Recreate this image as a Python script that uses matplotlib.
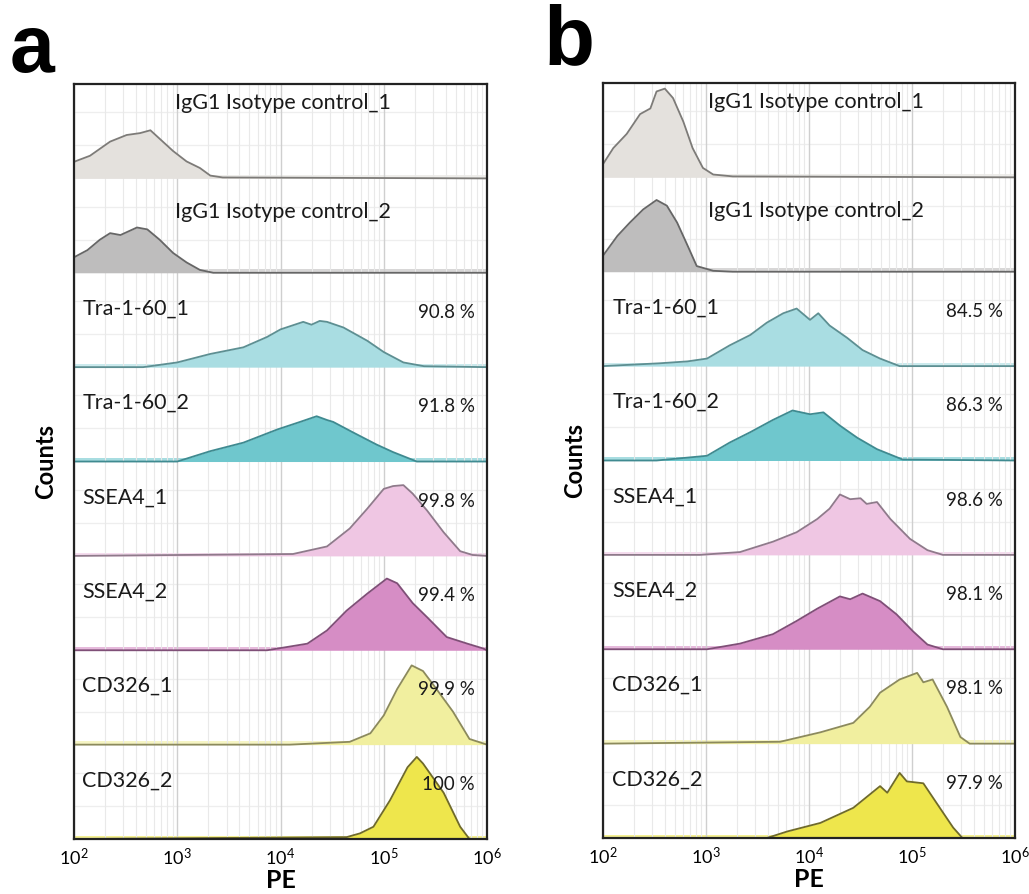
import numpy as np
import matplotlib
matplotlib.use('Agg')
import matplotlib.pyplot as plt

# row names (top to bottom) and % positive per panel
labels = ['IgG1 Isotype control_1', 'IgG1 Isotype control_2', 'Tra-1-60_1', 'Tra-1-60_2',
          'SSEA4_1', 'SSEA4_2', 'CD326_1', 'CD326_2']
pct_a = ['', '', '90.8 %', '91.8 %', '99.8 %', '99.4 %', '99.9 %', '100 %']
pct_b = ['', '', '84.5 %', '86.3 %', '98.6 %', '98.1 %', '98.1 %', '97.9 %']

fills = ['#e4e1dd', '#bebdbd', '#a9dde2', '#6fc7cd', '#efc6e3', '#d68dc5', '#f1ef9f', '#eee64c']
edges = ['#7d7b78', '#666666', '#5d8f92', '#3f8a90', '#8f7a8b', '#7f4f77', '#8c8a5c', '#6f6a2a']

# histograms: log10(PE) and height (fraction of a row)
a_igg1_x = [2.0, 2.01, 2.155, 2.35, 2.51, 2.64, 2.74, 2.83, 2.96, 3.09, 3.22, 3.32, 3.44, 6.0]
a_igg1_h = [0.17, 0.18, 0.24, 0.39, 0.46, 0.48, 0.51, 0.42, 0.29, 0.18, 0.11, 0.03, 0.01, 0.0]
a_igg2_x = [2.0, 2.01, 2.13, 2.25, 2.35, 2.45, 2.61, 2.71, 2.83, 2.96, 3.09, 3.22, 3.35, 6.0]
a_igg2_h = [0.16, 0.17, 0.24, 0.35, 0.42, 0.40, 0.48, 0.46, 0.35, 0.21, 0.11, 0.03, 0.0, 0.0]
a_tra1_x = [2.0, 2.67, 3.0, 3.32, 3.64, 3.87, 4.0, 4.22, 4.3, 4.38, 4.45, 4.61, 4.84, 5.0, 5.19, 5.39, 6.0]
a_tra1_h = [0.0, 0.0, 0.05, 0.14, 0.21, 0.32, 0.40, 0.48, 0.45, 0.49, 0.48, 0.42, 0.28, 0.16, 0.05, 0.01, 0.0]
a_tra2_x = [2.0, 3.0, 3.32, 3.64, 3.97, 4.19, 4.35, 4.45, 4.51, 4.70, 4.93, 5.09, 5.32, 6.0]
a_tra2_h = [0.0, 0.0, 0.11, 0.20, 0.34, 0.42, 0.48, 0.44, 0.42, 0.31, 0.18, 0.10, 0.0, 0.0]
a_ssea1_x = [2.0, 4.12, 4.45, 4.67, 4.84, 5.0, 5.09, 5.19, 5.28, 5.42, 5.58, 5.74, 5.86, 6.0]
a_ssea1_h = [0.0, 0.02, 0.10, 0.29, 0.50, 0.71, 0.74, 0.75, 0.66, 0.48, 0.25, 0.05, 0.01, 0.0]
a_ssea2_x = [2.0, 3.87, 4.26, 4.45, 4.64, 4.84, 5.03, 5.13, 5.28, 5.42, 5.61, 5.81, 5.96, 6.0]
a_ssea2_h = [0.0, 0.0, 0.07, 0.21, 0.42, 0.60, 0.76, 0.71, 0.50, 0.35, 0.14, 0.07, 0.02, 0.0]
a_cd1_x = [2.0, 4.09, 4.67, 4.87, 5.0, 5.13, 5.27, 5.38, 5.51, 5.67, 5.83, 6.0]
a_cd1_h = [0.0, 0.0, 0.03, 0.12, 0.31, 0.59, 0.84, 0.78, 0.59, 0.35, 0.06, 0.0]
a_cd2_x = [2.0, 4.64, 4.77, 4.90, 5.06, 5.23, 5.32, 5.38, 5.58, 5.74, 5.83, 6.0]
a_cd2_h = [0.0, 0.02, 0.06, 0.13, 0.41, 0.76, 0.87, 0.80, 0.49, 0.13, 0.0, 0.0]

b_igg1_x = [2.0, 2.1, 2.23, 2.36, 2.46, 2.52, 2.60, 2.68, 2.78, 2.87, 2.97, 3.07, 3.26, 6.0]
b_igg1_h = [0.14, 0.31, 0.46, 0.67, 0.73, 0.91, 0.94, 0.84, 0.59, 0.31, 0.10, 0.03, 0.01, 0.0]
b_igg2_x = [2.0, 2.14, 2.26, 2.39, 2.52, 2.62, 2.72, 2.82, 2.91, 3.07, 3.26, 6.0]
b_igg2_h = [0.17, 0.38, 0.52, 0.66, 0.76, 0.70, 0.52, 0.28, 0.06, 0.01, 0.0, 0.0]
b_tra1_x = [2.0, 2.55, 2.82, 3.01, 3.23, 3.43, 3.59, 3.75, 3.88, 4.01, 4.09, 4.2, 4.37, 4.52, 4.69, 4.88, 6.0]
b_tra1_h = [0.0, 0.03, 0.05, 0.08, 0.22, 0.33, 0.46, 0.56, 0.61, 0.49, 0.56, 0.43, 0.30, 0.17, 0.08, 0.0, 0.0]
b_tra2_x = [2.0, 2.52, 3.01, 3.23, 3.43, 3.65, 3.84, 4.01, 4.14, 4.30, 4.47, 4.66, 4.91, 6.0]
b_tra2_h = [0.0, 0.0, 0.05, 0.19, 0.30, 0.43, 0.53, 0.49, 0.51, 0.37, 0.24, 0.12, 0.01, 0.0]
b_ssea1_x = [2.0, 2.94, 3.33, 3.65, 3.88, 4.08, 4.2, 4.3, 4.4, 4.5, 4.56, 4.66, 4.79, 4.98, 5.15, 5.3, 6.0]
b_ssea1_h = [0.0, 0.0, 0.03, 0.14, 0.24, 0.38, 0.49, 0.64, 0.59, 0.60, 0.54, 0.56, 0.38, 0.17, 0.05, 0.0, 0.0]
b_ssea2_x = [2.0, 3.01, 3.33, 3.65, 3.88, 4.08, 4.3, 4.4, 4.52, 4.69, 4.85, 5.01, 5.15, 5.3, 6.0]
b_ssea2_h = [0.0, 0.0, 0.06, 0.16, 0.30, 0.43, 0.56, 0.53, 0.59, 0.51, 0.37, 0.19, 0.05, 0.0, 0.0]
b_cd1_x = [2.0, 3.72, 4.11, 4.43, 4.59, 4.69, 4.88, 5.05, 5.11, 5.2, 5.34, 5.47, 5.56, 6.0]
b_cd1_h = [0.0, 0.02, 0.12, 0.22, 0.39, 0.54, 0.68, 0.75, 0.65, 0.68, 0.39, 0.07, 0.0, 0.0]
b_cd2_x = [2.0, 3.59, 3.79, 4.11, 4.43, 4.69, 4.76, 4.88, 4.95, 5.11, 5.27, 5.40, 5.49, 6.0]
b_cd2_h = [0.0, 0.0, 0.07, 0.16, 0.32, 0.55, 0.48, 0.69, 0.60, 0.58, 0.32, 0.11, 0.0, 0.0]

curves_a = [(a_igg1_x, a_igg1_h), (a_igg2_x, a_igg2_h), (a_tra1_x, a_tra1_h), (a_tra2_x, a_tra2_h),
            (a_ssea1_x, a_ssea1_h), (a_ssea2_x, a_ssea2_h), (a_cd1_x, a_cd1_h), (a_cd2_x, a_cd2_h)]
curves_b = [(b_igg1_x, b_igg1_h), (b_igg2_x, b_igg2_h), (b_tra1_x, b_tra1_h), (b_tra2_x, b_tra2_h),
            (b_ssea1_x, b_ssea1_h), (b_ssea2_x, b_ssea2_h), (b_cd1_x, b_cd1_h), (b_cd2_x, b_cd2_h)]

plt.rcParams['font.family'] = ['Lato', 'DejaVu Sans']

fig = plt.figure(figsize=(10.29, 8.94), dpi=100)
ax_a = fig.add_axes([0.0719, 0.0615, 0.4014, 0.8445])
ax_b = fig.add_axes([0.586, 0.0626, 0.4004, 0.8446])


def draw_panel(ax, curves, pcts, igg_x, lab_x):
    n = len(curves)
    ax.set_xscale('log')
    ax.set_xlim(1e2, 1e6)
    ax.set_ylim(0, n)
    # grid: log vertical lines and faint horizontal lines
    ax.grid(True, which='minor', axis='x', color='#e9e9e9', lw=0.8)
    ax.grid(True, which='major', axis='x', color='#cfcfcf', lw=1.0)
    for k in range(n):
        for f in (0.35, 0.7):
            ax.axhline(k + f, color='#eeeeee', lw=0.9, zorder=0)
    for i, (xs, hs) in enumerate(curves):
        base = n - 1 - i
        x = 10 ** np.array(xs)
        y = base + np.array(hs)
        ax.fill_between(x, base, y, color=fills[i], lw=0, zorder=2)
        ax.axhspan(base, base + 0.035, color=fills[i], alpha=0.6, lw=0, zorder=1)
        ax.plot(x, y, color=edges[i], lw=1.3, zorder=3)
        if i < 2:
            ax.text(igg_x, base + (0.8 if i == 0 else 0.64), labels[i], fontsize=15.5,
                    va='center', ha='left', color='#1a1a1a', zorder=5)
        else:
            ax.text(lab_x, base + 0.62, labels[i], fontsize=15.5, va='center', ha='left',
                    color='#1a1a1a', zorder=5)
            ax.text(7.6e5, base + 0.58, pcts[i], fontsize=13.5, va='center', ha='right',
                    color='#1a1a1a', zorder=5)
    ax.set_yticks([])
    ax.tick_params(axis='x', which='both', length=0, labelsize=13, pad=6)
    for s in ax.spines.values():
        s.set_color('#222222')
        s.set_linewidth(1.6)
        s.set_zorder(6)
    ax.set_xlabel('PE', fontsize=18, fontweight='bold', labelpad=0)
    ax.set_ylabel('Counts', fontsize=17, fontweight='bold', labelpad=12)


draw_panel(ax_a, curves_a, pct_a, 10 ** 2.98, 10 ** 2.08)
draw_panel(ax_b, curves_b, pct_b, 10 ** 3.02, 10 ** 2.09)

fig.text(0.009, 0.985, 'a', fontsize=58, fontweight='bold', family='Liberation Sans', va='top')
fig.text(0.528, 0.997, 'b', fontsize=60, fontweight='bold', family='Liberation Sans', va='top')

fig.savefig('out.png', dpi=100)
